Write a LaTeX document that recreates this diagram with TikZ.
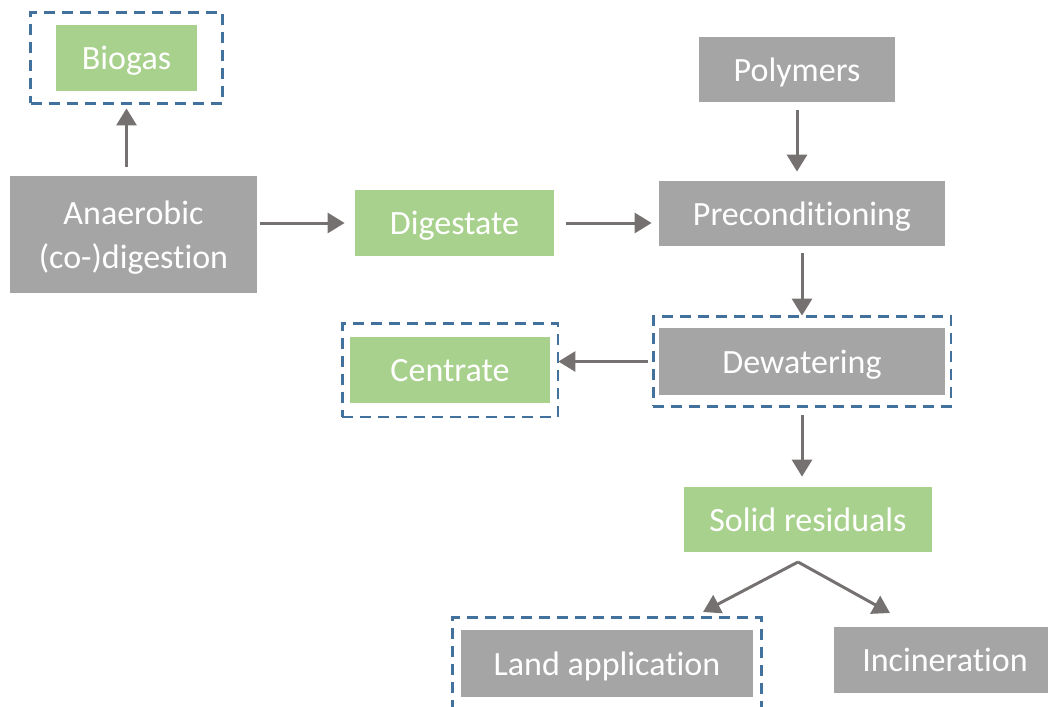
\documentclass[tikz,border=0pt]{standalone}
\usepackage{fontspec}
\setmainfont{Carlito}[Ligatures=NoCommon]
\usepackage{xcolor}
\usepackage{tikz}
\usetikzlibrary{fit,arrows.meta}
\definecolor{boxgray}{HTML}{A5A5A5}
\definecolor{boxgreen}{HTML}{A9D18E}
\definecolor{dashblue}{HTML}{41719C}
\definecolor{arrowgray}{HTML}{767171}

\begin{document}
\begin{tikzpicture}[x=0.5pt, y=-0.5pt,
    proc/.style={fill=boxgray, text=white, inner sep=0pt, text depth=0pt, align=center, font=\fontsize{17}{22}\selectfont},
    prod/.style={proc, fill=boxgreen},
    frame/.style={draw=dashblue, line width=1.4pt, dash pattern=on 5.5pt off 3.5pt},
    flow/.style={draw=arrowgray, line width=1.5pt, -{Triangle[width=10pt, length=8.5pt]}}]
    \clip (0,0) rectangle (1048,706);

    \node[prod, minimum width=70.5pt, minimum height=33pt] (biogas) at (126.5, 58){Biogas};
    \node[proc, minimum width=123.5pt, minimum height=58.5pt] (anaer) at (133.5, 234.5){Anaerobic\\(co-)digestion};
    \node[prod, minimum width=99.5pt, minimum height=33pt] (dig) at (454.5, 223){Digestate};
    
    \node[proc, minimum width=98pt, minimum height=32.5pt] (poly) at (797, 69.5){Polymers};
    \node[proc, minimum width=143pt, minimum height=32.5pt] (pre) at (802, 213.5){Preconditioning};
    \node[proc, minimum width=143pt, minimum height=33.5pt] (dew) at (802, 361.5){Dewatering};
    \node[prod, minimum width=100pt, minimum height=33pt] (cen) at (450, 370){Centrate};
    
    \node[prod, minimum width=124pt, minimum height=32.5pt] (sol) at (808, 519.5){Solid residuals};
    \node[proc, minimum width=146pt, minimum height=33.5pt] (land) at (607, 663.5){Land application};
    \node[proc, minimum width=111pt, minimum height=33pt] (incin) at (945, 660){Incineration};
    
    \node [frame, inner xsep=12.5pt, inner ysep=6pt, fit={(biogas)}] {};
    \node [frame, inner xsep=3.75pt, inner ysep=6.75pt, fit={(cen)}] {};
    \node [frame, inner xsep=2.75pt, inner ysep=5.5pt, fit={(dew)}] {};
    \node [frame, inner xsep=4pt, inner ysep=6pt, fit={(land)}] {};
    
    \coordinate (split) at (798, 562);
    \coordinate (landtip) at (703, 612);
    \coordinate (incintip) at (890, 613);
    
    \draw[flow, shorten <=4.5pt, shorten >=8.5pt] (biogas.south |- anaer.north) -- (biogas.south);
    \draw[flow, shorten <=1.5pt, shorten >=5pt] (anaer.east |- dig.west) -- (dig.west);
    \draw[flow, shorten <=6pt, shorten >=3.5pt] (dig.east) -- (dig.east -| pre.west);
    \draw[flow, shorten <=4pt, shorten >=4.5pt] (poly.south) -- (poly.south |- pre.north);
    \draw[flow, shorten <=3.5pt, shorten >=6pt] (pre.south) -- (dew.north);
    \draw[flow, shorten <=5.5pt, shorten >=4pt] (dew.west) -- (dew.west -| cen.east);
    \draw[flow, shorten <=10pt, shorten >=5pt] (dew.south) -- (dew.south |- sol.north);
    \draw[flow] (split) -- (landtip);
    \draw[flow] (split) -- (incintip);
\end{tikzpicture}
\end{document}
